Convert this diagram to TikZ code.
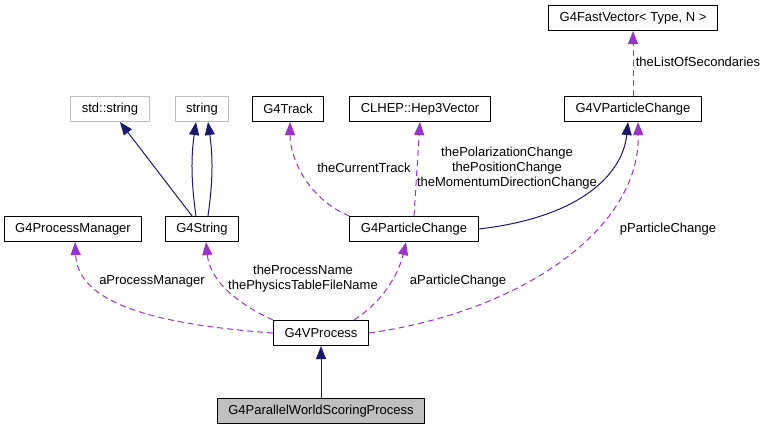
\documentclass[tikz,border=0pt]{standalone}
\usepackage{fontspec}
\setmainfont{Liberation Sans}
\usetikzlibrary{arrows.meta}
\definecolor{edgeblue}{HTML}{191970}
\definecolor{edgepurple}{HTML}{9A32CD}
\definecolor{boxgrey}{HTML}{BFBFBF}
\begin{document}
\begin{tikzpicture}[x=1pt,y=-1pt,
  font=\fontsize{13}{15}\selectfont,
  classbox/.style={draw=black,line width=1.1pt,fill=white,inner xsep=11pt,inner ysep=0pt,minimum height=25pt},
  extbox/.style={classbox,draw=boxgrey},
  inherit/.style={draw=edgeblue,line width=1pt,-{Triangle[length=13pt,width=10pt]}},
  usage/.style={draw=edgepurple,line width=1pt,dash pattern=on 6pt off 4pt,-{Triangle[length=13pt,width=10pt]}},
  lbl/.style={inner sep=0pt,align=center}]
\useasboundingbox (0,0) rectangle (768,429);
% classes
\node[classbox] (fast) at (633,18) {G4FastVector< Type, N >};
\node[classbox] (vpc) at (633,109) {G4VParticleChange};
\node[classbox] (hep) at (420,109) {CLHEP::Hep3Vector};
\node[classbox] (track) at (288,109) {G4Track};
\node[extbox] (stds) at (110,109) {std::string};
\node[extbox] (str) at (202,109) {string};
\node[classbox] (pm) at (73,229) {G4ProcessManager};
\node[classbox] (g4s) at (202,229) {G4String};
\node[classbox] (pc) at (414,229) {G4ParticleChange};
\node[classbox] (vp) at (321,333) {G4VProcess};
\node[classbox,fill=boxgrey] (pw) at (321,411) {G4ParallelWorldScoringProcess};
% inheritance
\draw[inherit] (pw) -- (vp);
\draw[inherit] (g4s) -- (stds);
\draw[inherit] ([xshift=-6pt]g4s.north) .. controls +(-5,-35) and +(-5,35) .. ([xshift=-6pt]str.south);
\draw[inherit] ([xshift=6pt]g4s.north) .. controls +(5,-35) and +(5,35) .. ([xshift=6pt]str.south);
\draw[inherit] (pc.east) .. controls +(105,-12) and +(-5,50) .. ([xshift=-5pt]vpc.south);
% members
\draw[usage] (vpc) -- (fast);
\draw[usage] (pc.north west) .. controls (310,200) and (290,160) .. ([xshift=2pt]track.south);
\draw[usage] (pc.north) -- (hep.south);
\draw[usage] (vp.west) .. controls (150,324) and (78,302) .. ([xshift=2pt]pm.south);
\draw[usage] (vp.north west) .. controls (240,305) and (210,282) .. ([xshift=4pt]g4s.south);
\draw[usage] ([xshift=33pt]vp.north) .. controls (388,298) and (400,268) .. ([xshift=-8pt]pc.south);
\draw[usage] (vp.east) .. controls (520,312) and (640,230) .. ([xshift=5pt]vpc.south);
% labels
\node[lbl] (lsec) at (698,62) {theListOfSecondaries};
\node[lbl] (ltrack) at (364,168) {theCurrentTrack};
\node[lbl] (lchange) at (507,168) {thePolarizationChange\\thePositionChange\\theMomentumDirectionChange};
\node[lbl] (lppc) at (668,229) {pParticleChange};
\node[lbl] (lpm) at (152,281) {aProcessManager};
\node[lbl] (lname) at (303,279) {theProcessName\\thePhysicsTableFileName};
\node[lbl] (lapc) at (458,281) {aParticleChange};
\end{tikzpicture}
\end{document}
